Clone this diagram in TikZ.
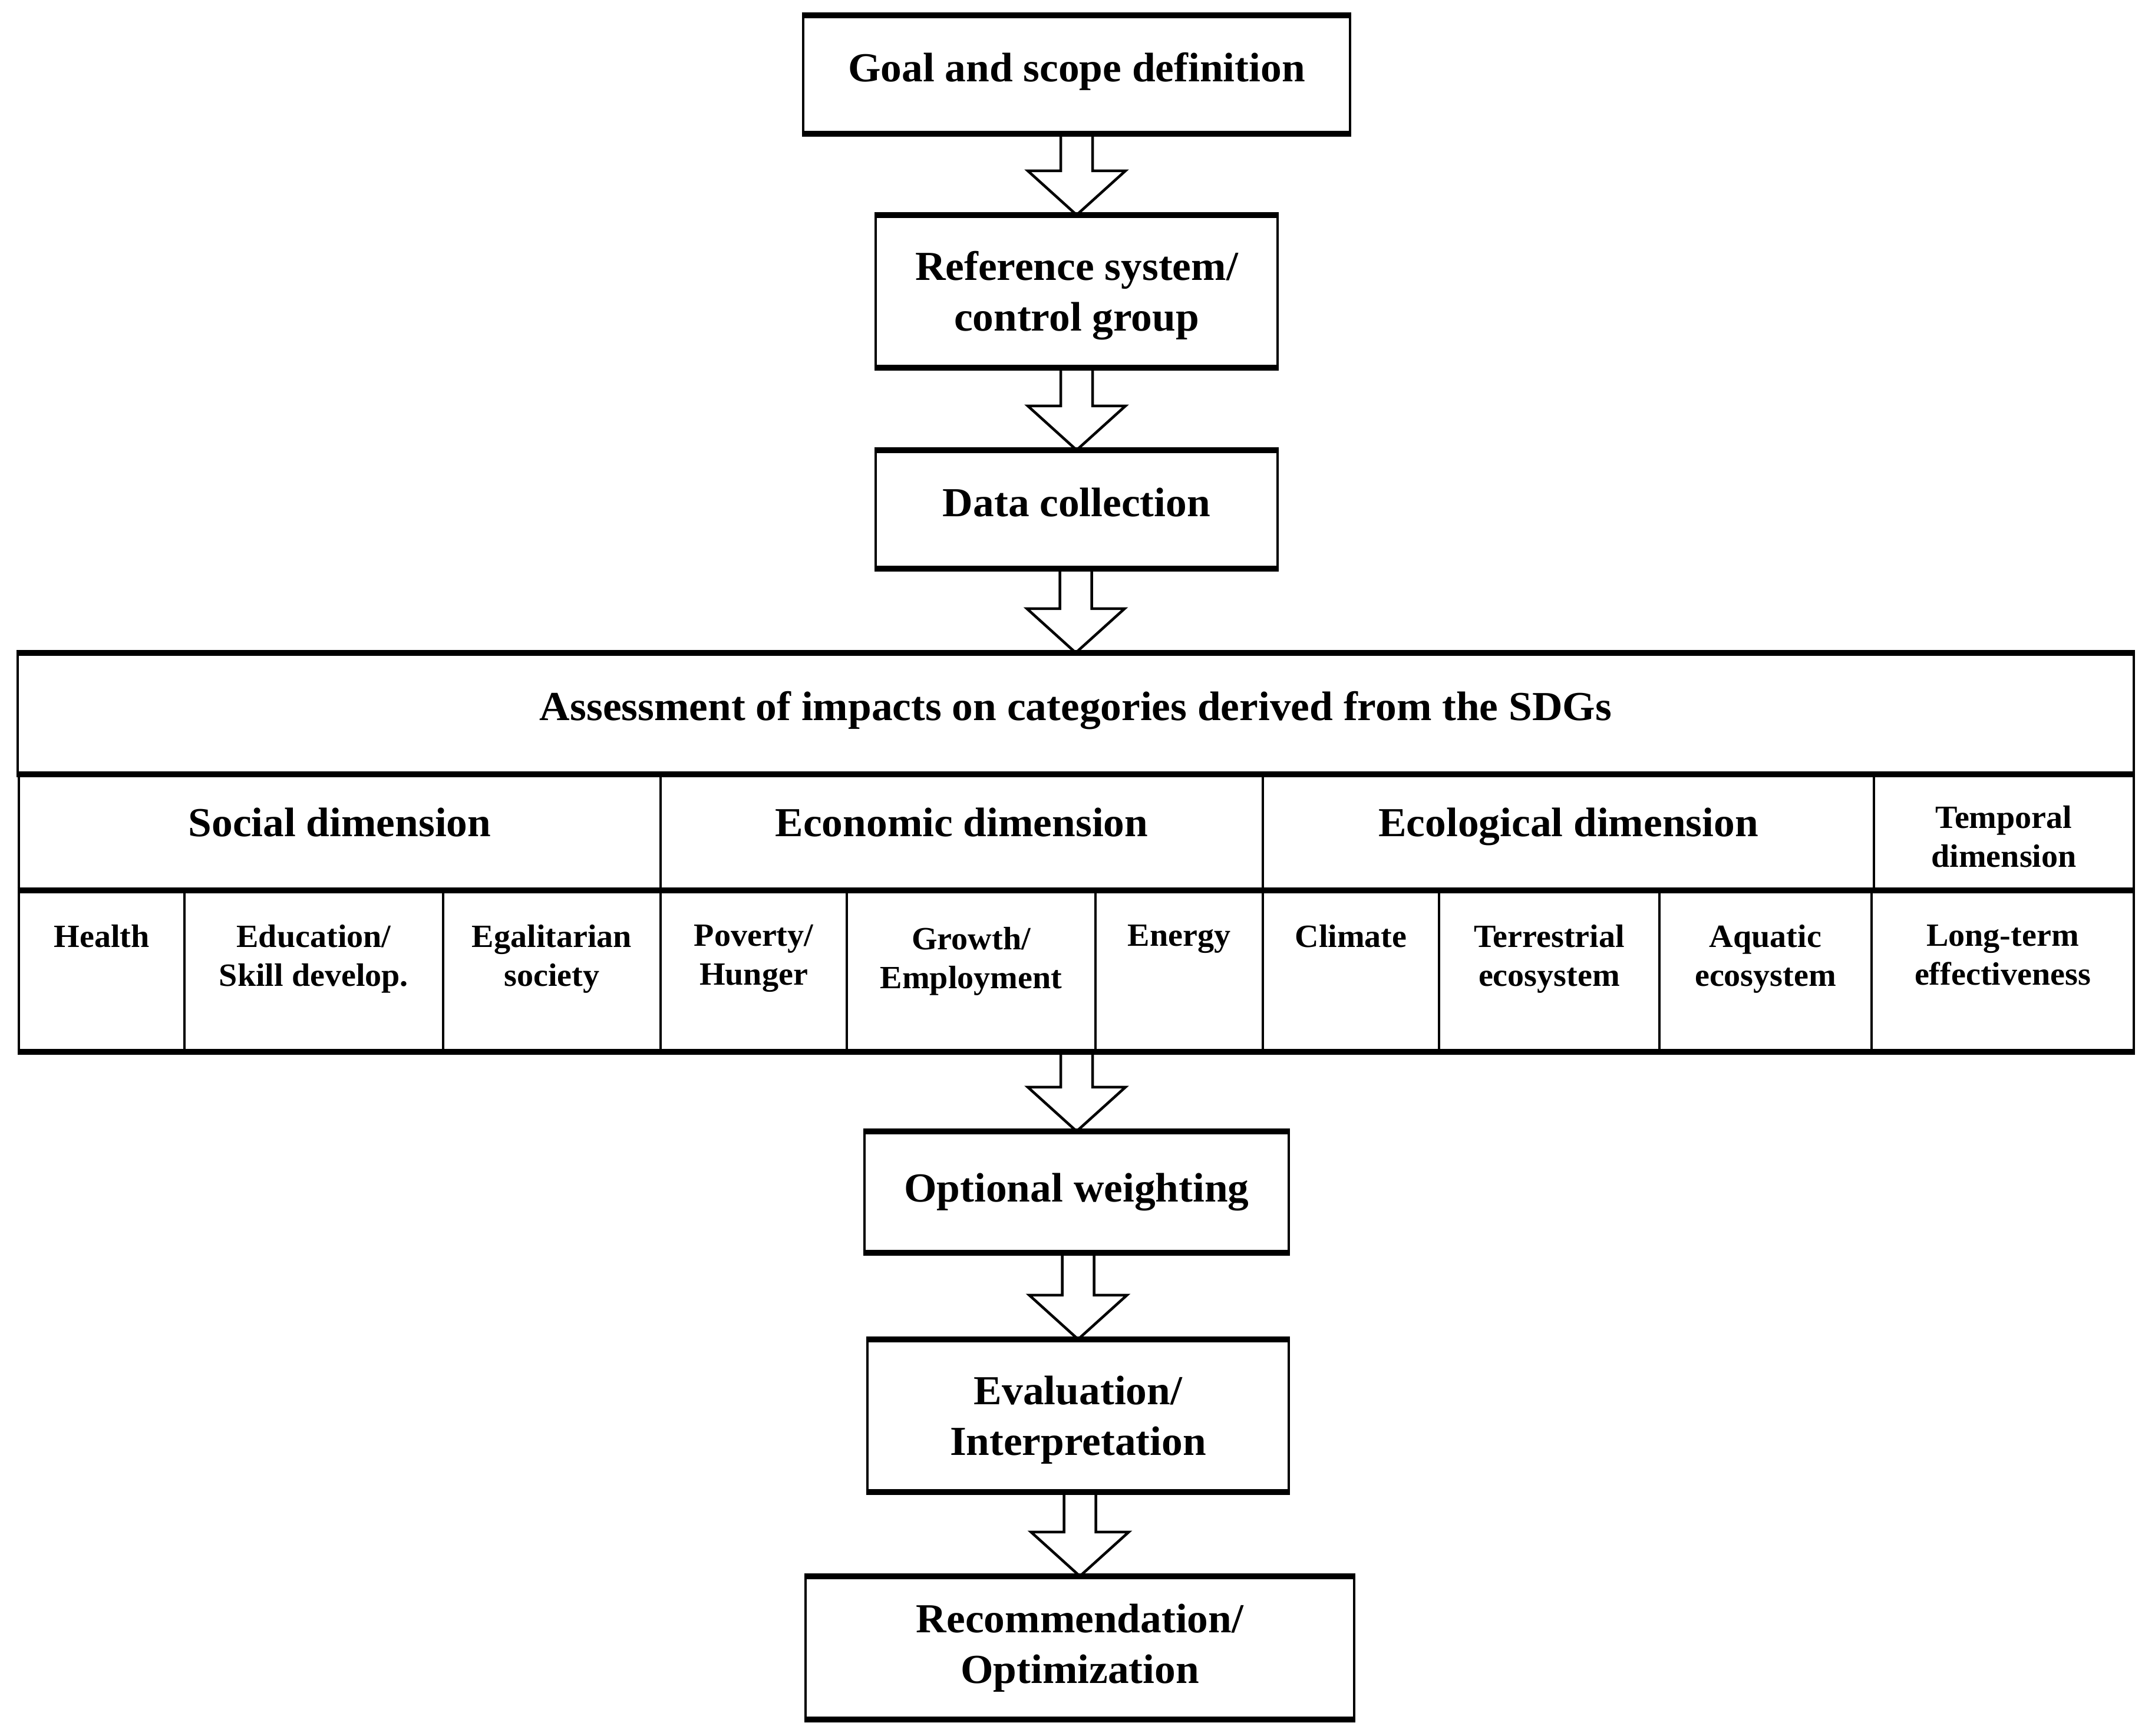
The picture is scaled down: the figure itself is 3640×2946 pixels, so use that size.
\documentclass[tikz,border=0pt]{standalone}
\usepackage{fontspec}
\setmainfont{Liberation Serif}[FakeStretch=1.02]
\usetikzlibrary{calc}
\newcommand\hedges[1]{\draw[line width=2pt] (#1.north west) -- (#1.north east) (#1.south west) -- (#1.south east);}
\newcommand\bigarrow[3]{%
  \coordinate (#3) at (#2.north |- #1.south);
  \draw[arrowstyle] ($(#3)+(-27,0)$) -- ($(#2.north)+(-27,-75)$) -- ($(#2.north)+(-83,-75)$) -- (#2.north) -- ($(#2.north)+(83,-75)$) -- ($(#2.north)+(27,-75)$) -- ($(#3)+(27,0)$);}
\begin{document}
\begin{tikzpicture}[x=0.2pt,y=-0.2pt,
  boxstyle/.style={draw, line width=0.9pt, fill=white, inner sep=0pt},
  onetext/.style={inner sep=0pt, text height=10pt, text depth=3pt, font=\bfseries\fontsize{14}{17.2}\selectfont},
  twotext/.style={inner sep=0pt, align=center, font=\bfseries\fontsize{14}{17.2}\selectfont},
  emptycell/.style={draw, line width=0.9pt, inner sep=0pt, minimum height=54.8pt},
  small/.style={inner sep=0pt, align=center, anchor=north, font=\bfseries\fontsize{11}{13.2}\selectfont},
  arrowstyle/.style={draw, fill=white, line width=0.9pt, line join=miter}]
\useasboundingbox (0,0) rectangle (3640,2946);
\fill[white] (0,0) rectangle (3640,2946);

\node[boxstyle, minimum width=185.6pt, minimum height=39.4pt] (goal) at (1827,126.5) {};
\node[boxstyle, minimum width=136.4pt, minimum height=51pt] (ref) at (1827,494.5) {};
\node[boxstyle, minimum width=136.4pt, minimum height=39.4pt] (data) at (1827,864.5) {};
\node[boxstyle, minimum width=718.2pt, minimum height=40.4pt] (assess) at (1825.5,1211) {};
\node[onetext] (tgoal) at ($(goal.center)+(0,-6)$) {Goal and scope definition};
\node[twotext] (tref) at ($(ref.center)+(0,7)$) {Reference system/\\control group};
\node[onetext] (tdata) at ($(data.center)+(0,-6)$) {Data collection};
\node[onetext] (tassess) at ($(assess.center)+(0,-6)$) {Assessment of impacts on categories derived from the SDGs};

% dimension row
\node[emptycell, minimum width=217.8pt, minimum height=39.4pt] (social) at (576.5,1410.5) {};
\node[emptycell, minimum width=204.4pt, minimum height=39.4pt] (econ) at (1632,1410.5) {};
\node[emptycell, minimum width=207.4pt, minimum height=39.4pt] (ecol) at (2661.5,1410.5) {};
\node[emptycell, minimum width=88.2pt, minimum height=39.4pt] (temp) at (3400.5,1410.5) {};
\node[onetext] (tsocial) at ($(social.center)+(0,-9)$) {Social dimension};
\node[onetext] (tecon) at ($(econ.center)+(0,-9)$) {Economic dimension};
\node[onetext] (tecol) at ($(ecol.center)+(0,-9)$) {Ecological dimension};
\node[small, anchor=center] (ttemp) at ($(temp.center)+(0,9)$) {Temporal\\dimension};

% sub row
\node[emptycell, minimum width=56.2pt] (health) at (172.5,1646) {};
\node[emptycell, minimum width=87.8pt] (edu) at (532.5,1646) {};
\node[emptycell, minimum width=73.8pt] (egal) at (936.5,1646) {};
\node[emptycell, minimum width=63.2pt] (pov) at (1279,1646) {};
\node[emptycell, minimum width=84.4pt] (growth) at (1648,1646) {};
\node[emptycell, minimum width=56.8pt] (energy) at (2001,1646) {};
\node[emptycell, minimum width=59.8pt] (climate) at (2292.5,1646) {};
\node[emptycell, minimum width=74.8pt] (terr) at (2629,1646) {};
\node[emptycell, minimum width=72pt] (aqua) at (2996,1646) {};
\node[emptycell, minimum width=89pt] (long) at (3398.5,1646) {};

\node[small] (thealth) at ($(health.north)+(0,62)$) {Health};
\node[small] (tedu) at ($(edu.north)+(0,62)$) {Education/\\Skill develop.};
\node[small] (tegal) at ($(egal.north)+(0,62)$) {Egalitarian\\society};
\node[small] (tpov) at ($(pov.north)+(0,62)$) {Poverty/\\Hunger};
\node[small] (tgrowth) at ($(growth.north)+(0,66)$) {Growth/\\Employment};
\node[small] (tenergy) at ($(energy.north)+(0,62)$) {Energy};
\node[small] (tclimate) at ($(climate.north)+(0,62)$) {Climate};
\node[small] (tterr) at ($(terr.north)+(0,62)$) {Terrestrial\\ecosystem};
\node[small] (taqua) at ($(aqua.north)+(0,62)$) {Aquatic\\ecosystem};
\node[small] (tlong) at ($(long.north)+(0,62)$) {Long-term\\effectiveness};

\node[boxstyle, minimum width=144pt, minimum height=40.4pt] (opt) at (1827,2023) {};
\node[boxstyle, minimum width=143pt, minimum height=51pt] (eval) at (1829.5,2402.5) {};
\node[boxstyle, minimum width=186.2pt, minimum height=47.8pt] (rec) at (1832.5,2796.5) {};
\node[onetext] (topt) at ($(opt.center)+(0,-1)$) {Optional weighting};
\node[twotext] (teval) at ($(eval.center)+(0,7)$) {Evaluation/\\Interpretation};
\node[twotext] (trec) at ($(rec.center)+(0,0)$) {Recommendation/\\Optimization};

\bigarrow{goal}{ref}{a1}
\bigarrow{ref}{data}{a2}
\bigarrow{data}{assess}{a3}
\bigarrow{growth}{opt}{a4}
\bigarrow{opt}{eval}{a5}
\bigarrow{eval}{rec}{a6}

\hedges{goal}
\hedges{ref}
\hedges{data}
\hedges{assess}
\hedges{opt}
\hedges{eval}
\hedges{rec}
\draw[line width=2pt] (social.south west) -- (temp.south east);
\draw[line width=2pt] (health.south west) -- (long.south east);
\end{tikzpicture}
\end{document}
